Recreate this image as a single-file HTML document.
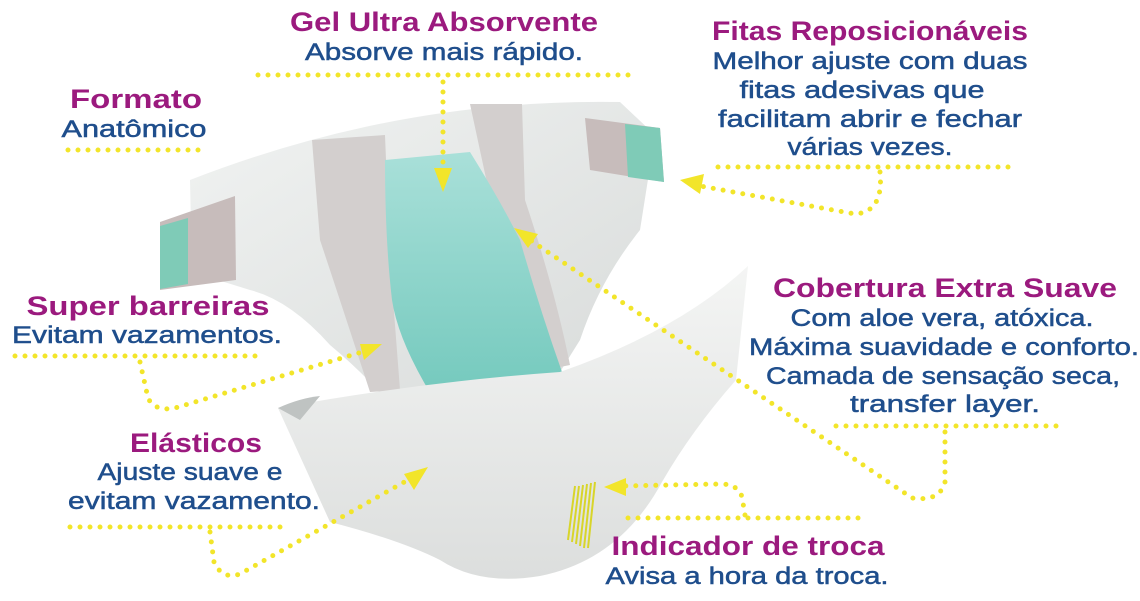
<!DOCTYPE html>
<html><head><meta charset="utf-8"><style>
html,body{margin:0;padding:0;background:#fff;}
svg{display:block}
.t{font-family:"Liberation Sans",sans-serif;font-weight:bold;fill:#9b1a7e;font-size:27px}
.b{font-family:"Liberation Sans",sans-serif;fill:#1f4e8c;font-size:24px;stroke:#1f4e8c;stroke-width:0.5}
.d{fill:none;stroke:#f2e52a;stroke-width:5;stroke-linecap:round;stroke-dasharray:0 10}
.a{fill:#f2e52a}
</style></head><body>
<svg width="1140" height="601" viewBox="0 0 1140 601" xmlns="http://www.w3.org/2000/svg">
<defs>
<linearGradient id="g1" x1="0" y1="0" x2="1" y2="1"><stop offset="0" stop-color="#f1f3f2"/><stop offset="1" stop-color="#d8dbda"/></linearGradient>
<linearGradient id="g2" x1="0" y1="0" x2="0" y2="1"><stop offset="0" stop-color="#a9e0d9"/><stop offset="1" stop-color="#74c9bd"/></linearGradient>
<linearGradient id="g3" x1="0" y1="0" x2="0" y2="1"><stop offset="0" stop-color="#f4f5f4"/><stop offset="1" stop-color="#dcdedd"/></linearGradient>
</defs>
<path d="M190,180 Q400,98 620,102 L655,135 L640,230 Q600,280 580,340 L560,372 L385,398 Q360,370 330,345 Q290,300 250,290 L192,272 Z" fill="url(#g1)"/>
<path d="M312,140 L385,135 L390,260 L400,390 L370,392 Q340,300 320,240 Z" fill="#d3cfce"/>
<path d="M470,104 L522,104 L525,200 Q555,290 570,365 L545,370 Q520,280 495,220 Z" fill="#d3cfce"/>
<path d="M385,160 L470,152 Q500,200 520,240 Q540,310 562,372 L432,396 Q398,340 392,300 Q385,240 385,160 Z" fill="url(#g2)"/>
<path d="M160,222 L235,196 L236,280 L160,290 Z" fill="#c7bcbb"/>
<path d="M160,226 L188,218 L188,284 L160,289 Z" fill="#7fcbb7"/>
<path d="M585,118 L660,128 L664,182 L590,170 Z" fill="#c7bcbb"/>
<path d="M625,124 L660,128 L664,182 L628,177 Z" fill="#7fcbb7"/>
<path d="M278,408 Q420,382 560,372 Q680,330 748,266 L736,380 Q692,430 662,482 Q620,560 540,576 Q480,586 440,560 Q400,540 330,522 Z" fill="url(#g3)"/>
<path d="M278,408 Q300,398 320,396 L300,420 Z" fill="#bfc3c2"/>
<g stroke="#d8d52a" stroke-width="2" fill="none">
<path d="M575,486 L568,540"/><path d="M579,486 L572,542"/><path d="M583,485 L576,544"/><path d="M587,484 L580,546"/><path d="M591,483 L584,548"/><path d="M595,482 L588,548"/>
</g>
<path class="d" d="M258,75 L632,75"/>
<path class="d" d="M443,82 L443,165"/>
<polygon class="a" points="434,168 452,168 443,192"/>
<path class="d" d="M68,150 L205,150"/>
<path class="d" d="M718,167 L1018,167"/>
<path class="d" d="M880,172 Q884,212 855,214 L700,186"/>
<polygon class="a" points="680,180 704,174 700,194"/>
<path class="d" d="M836,426 L1060,426"/>
<path class="d" d="M945,432 L945,482 Q940,502 912,498 L530,240"/>
<polygon class="a" points="514,228 538,234 528,248"/>
<path class="d" d="M15,356 L262,356"/>
<path class="d" d="M140,362 L148,398 Q155,412 175,408 L362,352"/>
<polygon class="a" points="382,344 360,344 364,360"/>
<path class="d" d="M70,527 L290,527"/>
<path class="d" d="M210,532 L214,562 Q222,580 240,574 L408,480"/>
<polygon class="a" points="428,467 404,474 414,490"/>
<path class="d" d="M628,518 L866,518"/>
<path class="d" d="M745,515 L742,497 Q738,484 720,484 L622,486"/>
<polygon class="a" points="604,487 626,478 626,496"/>
<text class="t" x="444" y="31" text-anchor="middle" textLength="308" lengthAdjust="spacingAndGlyphs">Gel Ultra Absorvente</text>
<text class="b" x="444" y="60" text-anchor="middle" textLength="278" lengthAdjust="spacingAndGlyphs">Absorve mais rápido.</text>
<text class="t" x="136" y="108" text-anchor="middle" textLength="132" lengthAdjust="spacingAndGlyphs">Formato</text>
<text class="b" x="134" y="137" text-anchor="middle" textLength="145" lengthAdjust="spacingAndGlyphs">Anatômico</text>
<text class="t" x="870" y="40" text-anchor="middle" textLength="316" lengthAdjust="spacingAndGlyphs">Fitas Reposicionáveis</text>
<text class="b" x="870" y="69" text-anchor="middle" textLength="315" lengthAdjust="spacingAndGlyphs">Melhor ajuste com duas</text>
<text class="b" x="862" y="98" text-anchor="middle" textLength="245" lengthAdjust="spacingAndGlyphs">fitas adesivas que</text>
<text class="b" x="870" y="127" text-anchor="middle" textLength="304" lengthAdjust="spacingAndGlyphs">facilitam abrir e fechar</text>
<text class="b" x="870" y="155" text-anchor="middle" textLength="165" lengthAdjust="spacingAndGlyphs">várias vezes.</text>
<text class="t" x="148" y="315" text-anchor="middle" textLength="243" lengthAdjust="spacingAndGlyphs">Super barreiras</text>
<text class="b" x="147" y="343" text-anchor="middle" textLength="270" lengthAdjust="spacingAndGlyphs">Evitam vazamentos.</text>
<text class="t" x="945" y="297" text-anchor="middle" textLength="344" lengthAdjust="spacingAndGlyphs">Cobertura Extra Suave</text>
<text class="b" x="942" y="326" text-anchor="middle" textLength="303" lengthAdjust="spacingAndGlyphs">Com aloe vera, atóxica.</text>
<text class="b" x="944" y="355" text-anchor="middle" textLength="390" lengthAdjust="spacingAndGlyphs">Máxima suavidade e conforto.</text>
<text class="b" x="943" y="384" text-anchor="middle" textLength="354" lengthAdjust="spacingAndGlyphs">Camada de sensação seca,</text>
<text class="b" x="945" y="412" text-anchor="middle" textLength="190" lengthAdjust="spacingAndGlyphs">transfer layer.</text>
<text class="t" x="196" y="452" text-anchor="middle" textLength="132" lengthAdjust="spacingAndGlyphs">Elásticos</text>
<text class="b" x="190" y="480" text-anchor="middle" textLength="185" lengthAdjust="spacingAndGlyphs">Ajuste suave e</text>
<text class="b" x="194" y="509" text-anchor="middle" textLength="252" lengthAdjust="spacingAndGlyphs">evitam vazamento.</text>
<text class="t" x="748" y="555" text-anchor="middle" textLength="273" lengthAdjust="spacingAndGlyphs">Indicador de troca</text>
<text class="b" x="747" y="584" text-anchor="middle" textLength="283" lengthAdjust="spacingAndGlyphs">Avisa a hora da troca.</text>
</svg>
</body></html>
